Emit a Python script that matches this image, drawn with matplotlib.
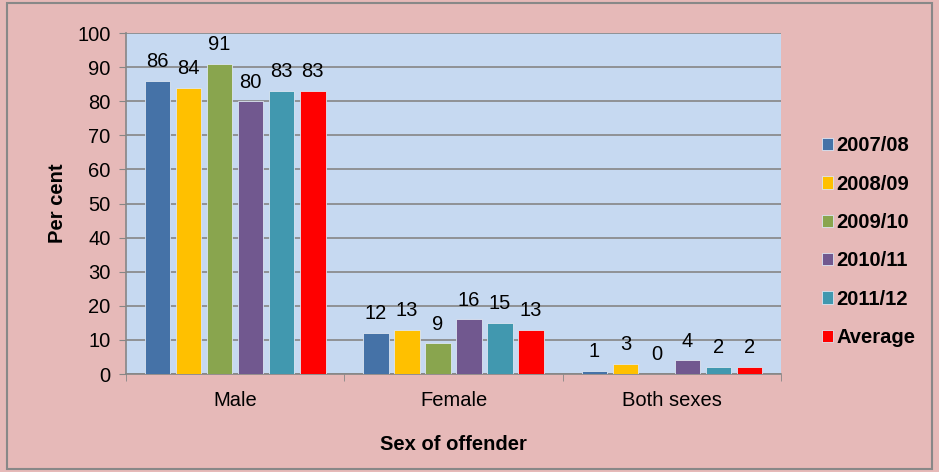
import matplotlib
matplotlib.use("Agg")
import matplotlib.pyplot as plt
import numpy as np
from matplotlib.patches import Rectangle

plt.rcParams['font.family'] = ['Liberation Sans', 'DejaVu Sans']

categories = ["Male", "Female", "Both sexes"]
series_names = ["2007/08", "2008/09", "2009/10", "2010/11", "2011/12", "Average"]
v_2007 = [86, 12, 1]
v_2008 = [84, 13, 3]
v_2009 = [91, 9, 0]
v_2010 = [80, 16, 4]
v_2011 = [83, 15, 2]
v_avg = [83, 13, 2]
series_values = [v_2007, v_2008, v_2009, v_2010, v_2011, v_avg]
colors = ["#4572A7", "#FFC000", "#89A54E", "#71588F", "#4198AF", "#FF0000"]

FS = 14.5

fig = plt.figure(figsize=(9.39, 4.72), dpi=100)
fig.patch.set_facecolor("#E6B9B8")
fig.add_artist(Rectangle((0.007, 0.006), 0.986, 0.987, transform=fig.transFigure,
                         fill=False, edgecolor="#888888", linewidth=1.5))
ax = fig.add_axes([0.134, 0.2076, 0.698, 0.7224])
ax.set_facecolor("#C6D9F1")

x = np.arange(len(categories))
step = 0.142
width = 0.118
for i, (name, vals, c) in enumerate(zip(series_names, series_values, colors)):
    pos = x + (i - 2.5) * step
    ax.bar(pos, vals, width=width, color=c, label=name,
           edgecolor="#DDE6F2", linewidth=0.6, zorder=3)
    for p, v in zip(pos, vals):
        ax.annotate(str(v), (p, v), xytext=(0, 7), textcoords="offset points",
                    ha="center", va="bottom", fontsize=FS, color="black")

ax.set_xlim(-0.5, 2.5)
ax.set_ylim(0, 100)
ax.set_yticks(range(0, 101, 10))
ax.yaxis.grid(True, color="#868686", linewidth=1.2, zorder=0)
ax.set_axisbelow(True)
ax.set_xticks(x)
ax.set_xticklabels(categories, fontsize=FS)
ax.tick_params(axis='x', length=0, pad=12.5)
ax.set_xticks([-0.5, 0.5, 1.5, 2.5], minor=True)
ax.tick_params(axis='x', which='minor', length=5, color="#868686")
ax.tick_params(axis='y', labelsize=FS, length=5, color="#868686", pad=6)
for s in ["top", "right"]:
    ax.spines[s].set_visible(False)
for s in ["left", "bottom"]:
    ax.spines[s].set_color("#868686")
    ax.spines[s].set_linewidth(1.2)

ax.set_ylabel("Per cent", fontsize=FS, fontweight="bold", labelpad=7)
ax.set_xlabel("Sex of offender", fontsize=FS, fontweight="bold", labelpad=18)

leg = ax.legend(loc="center left", bbox_to_anchor=(0.875, 0.488),
                bbox_transform=fig.transFigure, frameon=False,
                prop={"size": FS, "weight": "bold"}, handlelength=0.55,
                handleheight=0.55, handletextpad=0.2, labelspacing=0.96,
                borderaxespad=0, borderpad=0)

fig.savefig("out.png", dpi=100, facecolor=fig.get_facecolor())
